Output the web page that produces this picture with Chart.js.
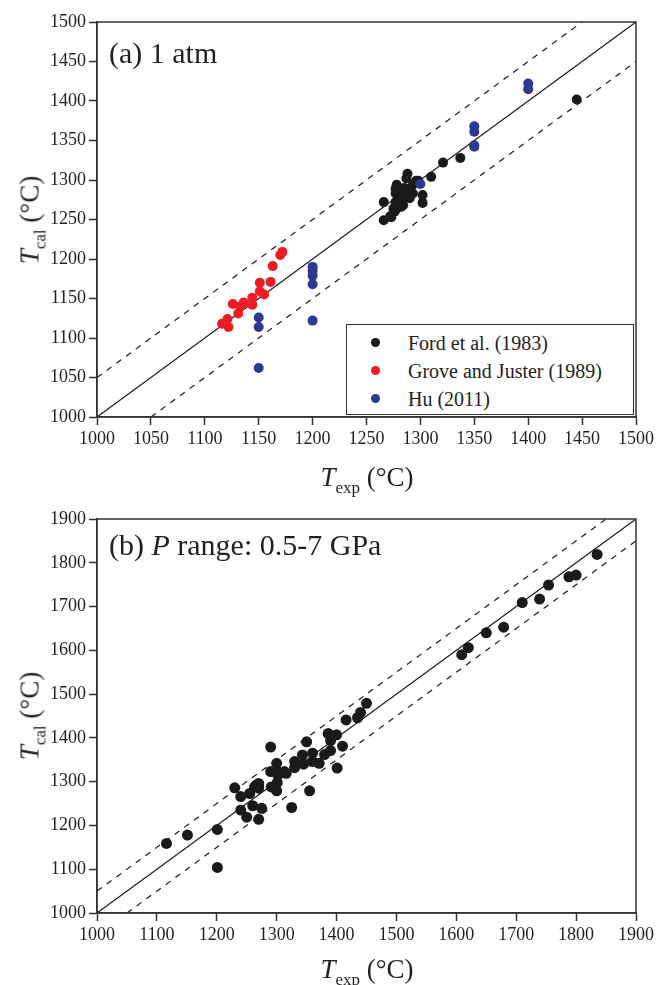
<!DOCTYPE html>
<html>
<head>
<meta charset="utf-8">
<script src="https://cdn.jsdelivr.net/npm/chart.js@4.4.0/dist/chart.umd.min.js"></script>
<style>
body{margin:0;background:#fff;font-family:"Liberation Serif","Times New Roman",serif;color:#231f20;}
#page{position:relative;width:657px;height:985px;overflow:hidden;}
.panel{position:absolute;left:0;width:657px;}
#top{top:0;height:490px;}
#bot{top:490px;height:495px;}
.lab{position:absolute;white-space:nowrap;font-size:30px;line-height:1;}
.xt{position:absolute;white-space:nowrap;font-size:27px;line-height:1;transform:translateX(-50%);}
.yt{position:absolute;white-space:nowrap;font-size:27px;line-height:1;transform:translate(-50%,-50%) rotate(-90deg);}
.sub{font-size:17px;position:relative;top:7px;}
.legend{position:absolute;left:346px;top:324px;width:288px;height:91px;border:1.5px solid #333;box-sizing:border-box;background:#fff;font-size:20px;}
.legend div{position:absolute;left:61px;line-height:1;}
.legend span{position:absolute;left:-37px;top:5px;width:9px;height:9px;border-radius:50%;}
</style>
</head>
<body>
<div id="page">
  <div class="panel" id="top"><canvas id="chartA"></canvas></div>
  <div class="panel" id="bot"><canvas id="chartB"></canvas></div>

  <div class="lab" style="left:109px;top:38px;">(a) 1 atm</div>
  <div class="lab" style="left:109px;top:530px;">(b) <i>P</i> range: 0.5-7 GPa</div>

  <div class="xt" style="left:367px;top:464px;"><i>T</i><span class="sub">exp</span> (°C)</div>
  <div class="xt" style="left:367px;top:956px;"><i>T</i><span class="sub">exp</span> (°C)</div>
  <div class="yt" style="left:30px;top:220px;"><i>T</i><span class="sub">cal</span> (°C)</div>
  <div class="yt" style="left:30px;top:716px;"><i>T</i><span class="sub">cal</span> (°C)</div>

  <div class="legend">
    <div style="top:8px;"><span style="background:#1a1a1a"></span>Ford et al. (1983)</div>
    <div style="top:36px;"><span style="background:#ed1c24"></span>Grove and Juster (1989)</div>
    <div style="top:64px;"><span style="background:#2b3990"></span>Hu (2011)</div>
  </div>
</div>
<script>
// panel (a) 1 atm
const fordExp = [1266, 1266, 1272, 1276, 1277, 1277, 1277, 1277, 1278, 1280, 1282, 1283, 1284, 1284, 1287, 1288, 1288, 1290, 1293, 1293, 1296, 1298, 1302, 1302, 1310, 1321, 1337, 1445, 1280, 1285, 1273, 1275];
const fordCal = [1272, 1249, 1254, 1260, 1262, 1272, 1283, 1289, 1294, 1278, 1266, 1283, 1268, 1277, 1302, 1308, 1283, 1277, 1294, 1283, 1299, 1299, 1281, 1271, 1304, 1322, 1328, 1402, 1286, 1290, 1253, 1264];
const groveExp = [1116, 1121, 1122, 1126, 1131, 1133, 1136, 1144, 1144, 1151, 1151, 1155, 1161, 1163, 1170, 1172];
const groveCal = [1118, 1124, 1114, 1143, 1131, 1140, 1145, 1151, 1142, 1170, 1159, 1155, 1171, 1191, 1205, 1209];
const huExp = [1150, 1150, 1150, 1200, 1200, 1200, 1200, 1200, 1300, 1350, 1350, 1350, 1350, 1400, 1400];
const huCal = [1126, 1114, 1062, 1190, 1185, 1179, 1168, 1122, 1295, 1368, 1361, 1344, 1342, 1422, 1415];

// panel (b) 0.5-7 GPa
const hpExp = [1116, 1151, 1201, 1201, 1230, 1240, 1240, 1250, 1255, 1260, 1263, 1266, 1270, 1270, 1270, 1275, 1290, 1290, 1291, 1300, 1300, 1302, 1301, 1300, 1313, 1316, 1325, 1330, 1330, 1343, 1345, 1350, 1355, 1360, 1360, 1371, 1380, 1386, 1390, 1390, 1400, 1401, 1410, 1416, 1435, 1440, 1450, 1609, 1620, 1650, 1679, 1710, 1739, 1754, 1788, 1800, 1835];
const hpCal = [1159, 1178, 1191, 1104, 1286, 1266, 1235, 1219, 1273, 1245, 1288, 1292, 1296, 1285, 1214, 1239, 1379, 1323, 1288, 1342, 1325, 1315, 1298, 1279, 1323, 1319, 1241, 1332, 1346, 1361, 1340, 1391, 1279, 1365, 1346, 1342, 1362, 1410, 1371, 1394, 1407, 1331, 1381, 1441, 1446, 1458, 1479, 1590, 1606, 1640, 1653, 1709, 1717, 1749, 1768, 1772, 1819];

// 1:1 line and +/-50 °C bands
const lineA = {x: [1000, 1500], y: [1000, 1500]};
const upA = {x: [1000, 1450], y: [1050, 1500]};
const lowA = {x: [1050, 1500], y: [1000, 1450]};
const lineB = {x: [1000, 1900], y: [1000, 1900]};
const upB = {x: [1000, 1850], y: [1050, 1900]};
const lowB = {x: [1050, 1900], y: [1000, 1850]};

const pts = (xs, ys) => xs.map((x, i) => ({x: x, y: ys[i]}));

const frame = {
  id: 'frame',
  afterDatasetsDraw(chart) {
    const {ctx, chartArea: a} = chart;
    ctx.save();
    ctx.strokeStyle = '#333';
    ctx.lineWidth = 1.5;
    ctx.strokeRect(a.left, a.top, a.right - a.left, a.bottom - a.top);
    ctx.restore();
  }
};

function dots(label, xs, ys, color, order, r) {
  return {label: label, data: pts(xs, ys), backgroundColor: color, borderColor: color,
    pointRadius: r, borderWidth: 0, order: order};
}
function refLine(l, dashed) {
  return {data: pts(l.x, l.y), showLine: true, pointRadius: 0, borderColor: '#1a1a1a',
    borderWidth: 1.2, borderDash: dashed ? [6, 6] : [], order: 10};
}

function axis(min, max, step, fitW, fitH) {
  return {
    type: 'linear', min: min, max: max,
    ticks: {stepSize: step, color: '#231f20', font: {family: "'Liberation Serif', 'Times New Roman', serif", size: 18}, padding: 3,
      maxRotation: 0, autoSkip: false, callback: v => String(v)},
    grid: {drawOnChartArea: false, drawTicks: true, tickLength: 8, tickColor: '#333', tickWidth: 1.5},
    border: {color: '#333', width: 1.5},
    afterFit(s) { if (fitW) s.width = fitW; if (fitH) s.height = fitH; }
  };
}

function makeChart(id, datasets, min, max, step, padTop, xH) {
  return new Chart(document.getElementById(id), {
    type: 'scatter',
    data: {datasets: datasets},
    options: {
      responsive: true, maintainAspectRatio: false, animation: false,
      layout: {padding: {top: padTop, right: 20, left: 0, bottom: 0}},
      scales: {x: axis(min, max, step, 0, xH), y: axis(min, max, step, 97, 0)},
      plugins: {legend: {display: false}, tooltip: {enabled: false}}
    },
    plugins: [frame]
  });
}

makeChart('chartA', [
  dots('Ford et al. (1983)', fordExp, fordCal, '#1a1a1a', 3, 5),
  dots('Grove and Juster (1989)', groveExp, groveCal, '#ed1c24', 2, 5),
  dots('Hu (2011)', huExp, huCal, '#2b3990', 1, 5),
  refLine(lineA, false), refLine(upA, true), refLine(lowA, true)
], 1000, 1500, 50, 22, 73);

makeChart('chartB', [
  dots('0.5-7 GPa', hpExp, hpCal, '#1a1a1a', 1, 5.5),
  refLine(lineB, false), refLine(upB, true), refLine(lowB, true)
], 1000, 1900, 100, 29, 72);
</script>
</body>
</html>
